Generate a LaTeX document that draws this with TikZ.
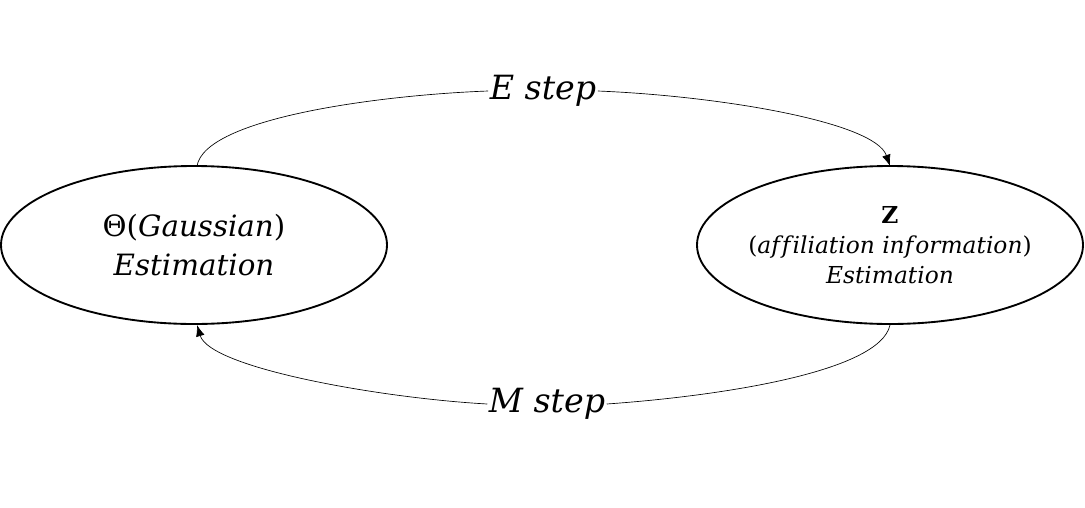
\documentclass[tikz,border=0pt]{standalone}
\usepackage{fontspec}
\setmainfont{DejaVu Serif}
\usetikzlibrary{shapes.geometric,arrows.meta}
\begin{document}
\begin{tikzpicture}[x=0.75pt,y=-0.75pt,
  state/.style={ellipse,draw,line width=1.4pt,minimum width=386*0.75pt,minimum height=158*0.75pt,inner xsep=-12pt,inner ysep=0pt,align=center},
  steplabel/.style={fill=white,inner sep=1pt,font=\fontsize{25}{28}\selectfont\itshape},
  link/.style={line width=0.5pt},
  conn/.style={link,-{Latex[length=8.5pt,width=6.5pt]}}]
\useasboundingbox (0,0) rectangle (1085,507);
\node[state,font=\fontsize{22}{29}\selectfont] (L) at (194,245) {Θ(\textit{Gaussian})\\\textit{Estimation}};
\node[state,font=\fontsize{17.5}{22.5}\selectfont] (R) at (890,245) {\textbf{Z}\\(\textit{af\kern1.5pt f\kern1.5pt iliation inf\kern1.5pt ormation})\\\textit{Estimation}};
\node[steplabel] (E) at (543,91) {E step};
\node[steplabel] (M) at (547,404) {M step};
\draw[link] (197,166) .. controls (205,118) and (380,95) .. (E.west);
\draw[conn] (E.east) .. controls (720,96) and (875,122) .. (890,166);
\draw[link] (890,325) .. controls (880,372) and (720,396) .. (M.east);
\draw[conn] (M.west) .. controls (380,398) and (210,368) .. (197,325);
\end{tikzpicture}
\end{document}
